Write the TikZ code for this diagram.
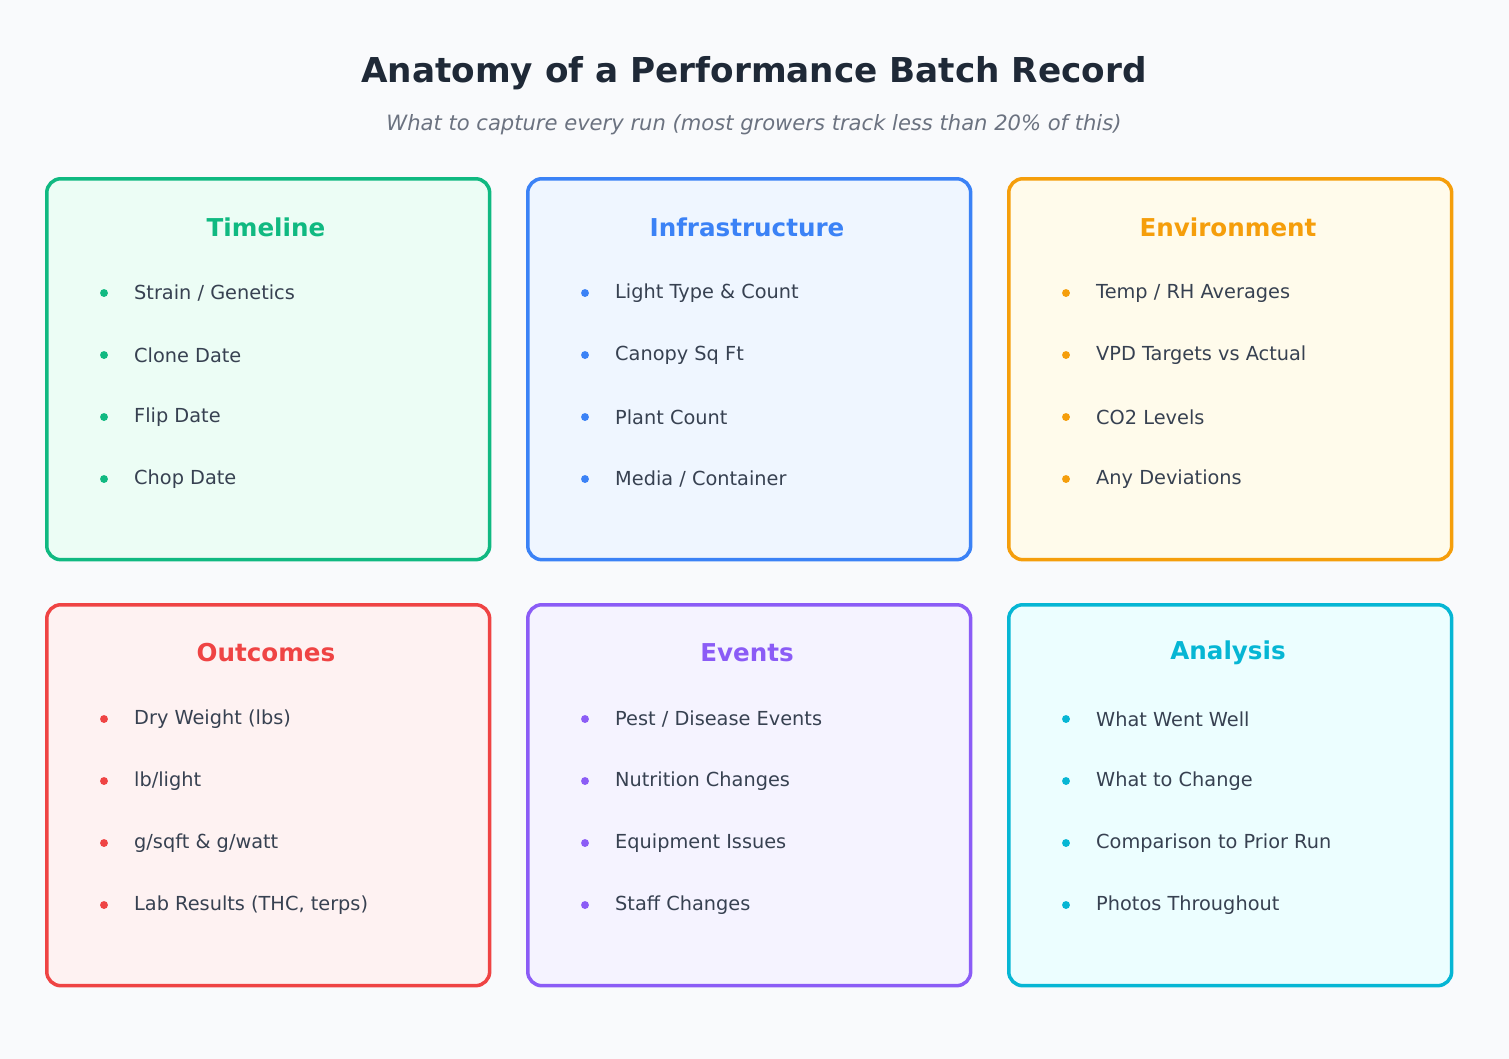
\documentclass[tikz,border=0pt]{standalone}
\usepackage{fontspec}
\setmainfont{DejaVu Sans}
\usetikzlibrary{positioning}
\definecolor{bgcol}{HTML}{F9FAFC}
\definecolor{titlecol}{HTML}{1F2937}
\definecolor{subcol}{HTML}{6B7280}
\definecolor{itemcol}{HTML}{374151}
\definecolor{cgreen}{HTML}{10B981}
\definecolor{cblue}{HTML}{3B82F6}
\definecolor{camber}{HTML}{F59E0B}
\definecolor{cred}{HTML}{EF4444}
\definecolor{cpurple}{HTML}{8B5CF6}
\definecolor{ccyan}{HTML}{06B6D4}
\definecolor{fgreen}{HTML}{ECFDF5}
\definecolor{fblue}{HTML}{EFF6FF}
\definecolor{famber}{HTML}{FFFBEB}
\definecolor{fred}{HTML}{FEF2F2}
\definecolor{fpurple}{HTML}{F5F3FF}
\definecolor{fcyan}{HTML}{ECFEFF}

\begin{document}
\begin{tikzpicture}[
    x=0.02cm, y=-0.02cm,
    card/.style={rectangle, rounded corners=8pt, line width=2pt, minimum width=8.86cm, minimum height=7.62cm, anchor=north west},
    head/.style={font=\fontsize{14}{16}\selectfont\bfseries},
    item/.style={anchor=west, text=itemcol, font=\fontsize{11}{13}\selectfont},
    dot/.style={circle, inner sep=0pt, minimum size=4.5pt}
]
    % Background and title
    \fill[bgcol] (0,0) rectangle (1509,1059);
    \node[text=titlecol, font=\fontsize{19.5}{22}\selectfont\bfseries] (title) at (754,73) {Anatomy of a Performance Batch Record};
    \node[text=subcol, font=\fontsize{12}{14}\selectfont\itshape] (subtitle) at (754,125) {What to capture every run (most growers track less than 20\% of this)};

    % Cards
    \foreach \x/\y/\c/\name/\ia/\ib/\ic/\id [count=\n] in {
        45/177/green/Timeline/{Strain / Genetics}/{Clone Date}/{Flip Date}/{Chop Date},
        526/177/blue/Infrastructure/{Light Type \& Count}/{Canopy Sq Ft}/{Plant Count}/{Media / Container},
        1007/177/amber/Environment/{Temp / RH Averages}/{VPD Targets vs Actual}/{CO2 Levels}/{Any Deviations},
        45/603/red/Outcomes/{Dry Weight (lbs)}/{lb/light}/{g/sqft \& g/watt}/{Lab Results (THC, terps)},
        526/603/purple/Events/{Pest / Disease Events}/{Nutrition Changes}/{Equipment Issues}/{Staff Changes},
        1007/603/cyan/Analysis/{What Went Well}/{What to Change}/{Comparison to Prior Run}/{Photos Throughout}}
    {
        \node[card, draw=c\c, fill=f\c] (card\n) at (\x,\y) {};
        \node[head, text=c\c] (head\n) at (\x+221,\y+50) {\name};
        \node[dot, fill=c\c] (dot\n-1) at (\x+59,\y+116) {};
        \node[item] (item\n-1) at (\x+83,\y+116) {\ia};
        \node[dot, fill=c\c] (dot\n-2) at (\x+59,\y+178) {};
        \node[item] (item\n-2) at (\x+83,\y+178) {\ib};
        \node[dot, fill=c\c] (dot\n-3) at (\x+59,\y+240) {};
        \node[item] (item\n-3) at (\x+83,\y+240) {\ic};
        \node[dot, fill=c\c] (dot\n-4) at (\x+59,\y+302) {};
        \node[item] (item\n-4) at (\x+83,\y+302) {\id};
    }
\end{tikzpicture}
\end{document}
